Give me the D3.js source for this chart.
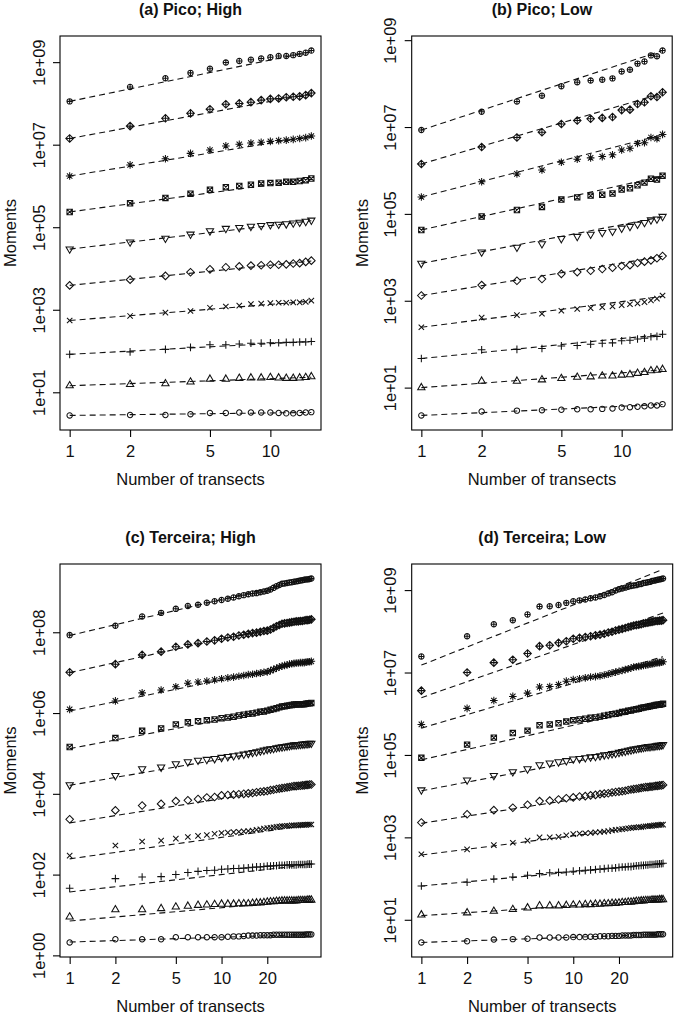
<!DOCTYPE html>
<html><head><meta charset="utf-8">
<script src="https://cdn.jsdelivr.net/npm/d3@7"></script>
<style>
body{margin:0;background:#fff}
svg{display:block}
text{font-family:"Liberation Sans",Arial,Helvetica,sans-serif;fill:#111}
</style>
</head><body>
<svg id="chart" width="675" height="1015"></svg>
<script>
// ---------- DATA ----------
const panelTitles = ["(a) Pico; High", "(b) Pico; Low", "(c) Terceira; High", "(d) Terceira; Low"];
const transectsPico = d3.range(1, 17);      // 1..16
const transectsTerceira = d3.range(1, 40);  // 1..39
const xTicksPico = [1, 2, 5, 10];
const xTicksTerceira = [1, 2, 5, 10, 20];
const yTicksOdd = [1e1, 1e3, 1e5, 1e7, 1e9];
const yTickLabelsOdd = ["1e+01", "1e+03", "1e+05", "1e+07", "1e+09"];
const yTicksEven = [1e0, 1e2, 1e4, 1e6, 1e8];
const yTickLabelsEven = ["1e+00", "1e+02", "1e+04", "1e+06", "1e+08"];

// log10 of moments q = 1..10, one row per moment
const picoHighLog = [
  [0.44,0.45,0.45,0.47,0.50,0.50,0.51,0.51,0.51,0.51,0.50,0.49,0.49,0.50,0.51,0.52],
  [1.16,1.19,1.21,1.25,1.32,1.32,1.34,1.35,1.35,1.36,1.35,1.34,1.34,1.35,1.36,1.38],
  [1.92,1.98,2.04,2.09,2.15,2.15,2.17,2.19,2.19,2.20,2.20,2.21,2.21,2.22,2.22,2.23],
  [2.74,2.85,2.93,2.97,3.05,3.08,3.10,3.14,3.15,3.16,3.17,3.17,3.18,3.18,3.19,3.22],
  [3.59,3.73,3.82,3.91,3.98,4.03,4.05,4.07,4.08,4.09,4.09,4.10,4.12,4.13,4.16,4.19],
  [4.47,4.64,4.73,4.83,4.91,4.97,4.99,5.02,5.04,5.06,5.07,5.08,5.10,5.12,5.14,5.17],
  [5.37,5.58,5.71,5.81,5.91,5.97,6.00,6.03,6.06,6.07,6.08,6.10,6.10,6.12,6.14,6.18],
  [6.24,6.51,6.66,6.79,6.87,6.97,7.01,7.04,7.06,7.08,7.10,7.11,7.13,7.15,7.17,7.21],
  [7.15,7.45,7.64,7.76,7.86,7.98,8.00,8.03,8.08,8.11,8.12,8.15,8.16,8.17,8.20,8.25],
  [8.05,8.40,8.61,8.74,8.84,8.99,9.03,9.06,9.09,9.12,9.15,9.15,9.17,9.20,9.23,9.28]
];
const picoLowLog = [
  [0.36,0.45,0.47,0.48,0.49,0.50,0.50,0.51,0.52,0.54,0.55,0.56,0.57,0.59,0.59,0.62],
  [1.00,1.15,1.15,1.18,1.21,1.24,1.25,1.27,1.27,1.29,1.30,1.33,1.35,1.39,1.40,1.42],
  [1.67,1.87,1.88,1.90,1.96,1.97,2.00,2.02,2.03,2.08,2.09,2.12,2.14,2.17,2.18,2.23],
  [2.39,2.61,2.67,2.70,2.77,2.81,2.83,2.85,2.87,2.90,2.92,2.94,2.97,3.01,3.05,3.12],
  [3.12,3.36,3.46,3.50,3.62,3.66,3.69,3.73,3.76,3.80,3.82,3.87,3.90,3.93,3.98,4.03],
  [3.86,4.12,4.23,4.31,4.43,4.48,4.53,4.57,4.60,4.67,4.71,4.76,4.80,4.86,4.88,4.94],
  [4.63,4.94,5.09,5.16,5.33,5.38,5.42,5.44,5.47,5.56,5.59,5.66,5.72,5.81,5.79,5.88],
  [5.39,5.74,5.92,6.01,6.19,6.26,6.29,6.32,6.36,6.47,6.51,6.62,6.64,6.76,6.73,6.83],
  [6.15,6.54,6.76,6.88,7.07,7.15,7.19,7.21,7.23,7.39,7.40,7.53,7.57,7.71,7.69,7.80],
  [6.93,7.35,7.59,7.72,7.94,8.03,8.07,8.09,8.12,8.28,8.32,8.46,8.51,8.65,8.63,8.76]
];
const terceiraHighLog = [
  [0.32,0.40,0.40,0.40,0.45,0.45,0.45,0.45,0.45,0.45,0.46,0.47,0.47,0.48,0.49,0.49,0.49,0.50,0.50,0.50,0.50,0.51,0.51,0.51,0.51,0.51,0.51,0.51,0.51,0.51,0.51,0.51,0.51,0.51,0.51,0.52,0.52,0.52,0.52],
  [0.95,1.13,1.13,1.16,1.20,1.22,1.24,1.25,1.26,1.27,1.27,1.27,1.28,1.28,1.28,1.29,1.30,1.30,1.31,1.32,1.33,1.33,1.34,1.34,1.35,1.35,1.35,1.35,1.35,1.35,1.35,1.36,1.36,1.36,1.36,1.36,1.37,1.37,1.37],
  [1.66,1.90,1.94,1.95,2.00,2.05,2.08,2.10,2.11,2.13,2.14,2.15,2.15,2.16,2.17,2.18,2.19,2.19,2.20,2.21,2.21,2.22,2.22,2.23,2.23,2.23,2.24,2.24,2.24,2.24,2.24,2.25,2.25,2.25,2.25,2.25,2.26,2.26,2.26],
  [2.47,2.72,2.82,2.84,2.89,2.93,2.96,2.98,3.01,3.03,3.04,3.05,3.06,3.07,3.08,3.09,3.11,3.12,3.14,3.15,3.16,3.17,3.18,3.19,3.20,3.20,3.21,3.21,3.22,3.22,3.22,3.22,3.23,3.23,3.23,3.23,3.24,3.24,3.24],
  [3.37,3.59,3.71,3.75,3.82,3.84,3.87,3.91,3.92,3.96,3.97,3.98,3.99,4.00,4.01,4.02,4.04,4.05,4.06,4.07,4.09,4.10,4.12,4.13,4.14,4.15,4.16,4.17,4.18,4.19,4.19,4.20,4.20,4.21,4.21,4.22,4.22,4.23,4.23],
  [4.22,4.45,4.62,4.66,4.74,4.79,4.83,4.85,4.87,4.90,4.92,4.94,4.96,4.98,5.00,5.02,5.04,5.06,5.08,5.10,5.11,5.12,5.14,5.15,5.16,5.17,5.18,5.19,5.20,5.21,5.21,5.22,5.22,5.23,5.23,5.24,5.24,5.25,5.25],
  [5.16,5.38,5.56,5.62,5.72,5.77,5.80,5.82,5.84,5.87,5.89,5.91,5.94,5.96,5.98,5.99,6.01,6.03,6.04,6.06,6.08,6.10,6.12,6.14,6.16,6.17,6.18,6.19,6.20,6.21,6.21,6.22,6.22,6.22,6.22,6.23,6.24,6.24,6.25],
  [6.09,6.30,6.50,6.57,6.65,6.74,6.77,6.79,6.82,6.85,6.87,6.89,6.91,6.93,6.95,6.96,6.98,6.99,7.01,7.02,7.05,7.08,7.11,7.14,7.16,7.18,7.19,7.21,7.22,7.23,7.24,7.24,7.25,7.25,7.25,7.26,7.27,7.27,7.28],
  [7.01,7.21,7.44,7.52,7.64,7.70,7.73,7.77,7.80,7.84,7.87,7.89,7.92,7.94,7.96,7.98,7.99,8.01,8.03,8.04,8.07,8.11,8.15,8.18,8.21,8.22,8.23,8.24,8.25,8.26,8.27,8.27,8.28,8.28,8.29,8.30,8.30,8.31,8.32],
  [7.93,8.16,8.39,8.48,8.58,8.65,8.68,8.73,8.77,8.80,8.83,8.86,8.89,8.92,8.94,8.96,8.97,8.99,9.01,9.03,9.06,9.10,9.14,9.17,9.20,9.21,9.22,9.23,9.24,9.25,9.26,9.27,9.28,9.29,9.30,9.31,9.31,9.32,9.33]
];
const terceiraLowLog = [
  [0.45,0.48,0.52,0.53,0.54,0.57,0.57,0.57,0.57,0.58,0.58,0.58,0.59,0.59,0.60,0.60,0.60,0.61,0.61,0.61,0.62,0.62,0.62,0.62,0.63,0.63,0.63,0.63,0.64,0.64,0.64,0.64,0.64,0.64,0.64,0.65,0.65,0.65,0.65],
  [1.12,1.17,1.21,1.25,1.29,1.34,1.34,1.34,1.35,1.36,1.36,1.37,1.37,1.38,1.38,1.39,1.39,1.40,1.40,1.41,1.42,1.42,1.43,1.43,1.44,1.45,1.45,1.46,1.46,1.47,1.47,1.47,1.48,1.48,1.48,1.48,1.49,1.49,1.49],
  [1.82,1.91,1.99,2.04,2.08,2.12,2.14,2.15,2.16,2.18,2.19,2.20,2.21,2.22,2.23,2.24,2.25,2.25,2.26,2.27,2.28,2.28,2.29,2.29,2.30,2.31,2.31,2.32,2.32,2.33,2.33,2.34,2.34,2.34,2.35,2.35,2.36,2.36,2.37],
  [2.59,2.71,2.81,2.87,2.92,3.00,3.00,3.01,3.05,3.08,3.09,3.10,3.11,3.12,3.13,3.14,3.15,3.17,3.18,3.19,3.20,3.21,3.22,3.23,3.24,3.24,3.25,3.25,3.26,3.27,3.27,3.28,3.28,3.29,3.29,3.30,3.30,3.31,3.31],
  [3.36,3.56,3.66,3.72,3.79,3.88,3.89,3.92,3.95,3.97,3.99,4.00,4.02,4.03,4.05,4.06,4.07,4.09,4.10,4.11,4.12,4.13,4.15,4.16,4.17,4.18,4.19,4.20,4.21,4.22,4.22,4.23,4.23,4.24,4.25,4.25,4.26,4.26,4.27],
  [4.15,4.39,4.50,4.59,4.66,4.76,4.80,4.83,4.86,4.90,4.91,4.93,4.95,4.96,4.98,5.00,5.01,5.03,5.04,5.06,5.08,5.09,5.11,5.12,5.14,5.15,5.16,5.17,5.18,5.19,5.20,5.20,5.21,5.21,5.22,5.23,5.23,5.24,5.25],
  [4.93,5.25,5.42,5.53,5.59,5.72,5.74,5.77,5.81,5.84,5.86,5.88,5.90,5.91,5.93,5.95,5.97,5.99,6.00,6.02,6.04,6.05,6.07,6.08,6.10,6.11,6.12,6.14,6.15,6.16,6.17,6.18,6.19,6.20,6.21,6.22,6.22,6.23,6.24],
  [5.74,6.13,6.32,6.42,6.50,6.65,6.66,6.71,6.79,6.83,6.85,6.87,6.89,6.90,6.92,6.94,6.96,6.99,7.01,7.03,7.05,7.07,7.09,7.11,7.13,7.14,7.15,7.16,7.17,7.18,7.19,7.20,7.21,7.22,7.23,7.24,7.24,7.25,7.26],
  [6.56,7.00,7.24,7.31,7.46,7.64,7.66,7.72,7.76,7.82,7.84,7.86,7.88,7.90,7.92,7.94,7.97,7.99,8.02,8.04,8.06,8.08,8.10,8.12,8.14,8.15,8.16,8.17,8.19,8.20,8.21,8.22,8.23,8.24,8.25,8.25,8.26,8.26,8.27],
  [7.39,7.88,8.17,8.27,8.41,8.60,8.61,8.64,8.69,8.73,8.75,8.77,8.80,8.82,8.85,8.88,8.92,8.95,8.99,9.02,9.04,9.06,9.08,9.10,9.11,9.12,9.14,9.15,9.17,9.18,9.19,9.20,9.22,9.23,9.24,9.25,9.26,9.27,9.28]
];

// fitted power laws: [log10 intercept, slope] per moment
const picoHighFit = [[0.44,0.06],[1.16,0.17],[1.92,0.26],[2.74,0.39],[3.59,0.49],[4.47,0.57],[5.37,0.66],[6.24,0.80],[7.15,0.90],[8.05,1.00]];
const picoLowFit = [[0.36,0.21],[1.00,0.34],[1.67,0.46],[2.39,0.59],[3.12,0.75],[3.86,0.89],[4.63,1.03],[5.39,1.19],[6.15,1.35],[6.93,1.52]];
const terceiraHighFit = [[0.33,0.12],[0.85,0.33],[1.57,0.43],[2.39,0.53],[3.28,0.60],[4.21,0.65],[5.12,0.71],[6.05,0.77],[7.00,0.83],[7.92,0.89]];
const terceiraLowFit = [[0.45,0.125],[1.10,0.24],[1.82,0.34],[2.57,0.47],[3.34,0.58],[4.13,0.70],[4.88,0.84],[5.65,1.09],[6.39,1.29],[7.18,1.46]];

// ---------- LAYOUT ----------
const panels = [
  {title: panelTitles[0], x: transectsPico, logs: picoHighLog, fit: picoHighFit, xTicks: xTicksPico, yTicks: yTicksOdd, yLabels: yTickLabelsOdd, left: 60, top: 36, w: 261, h: 394},
  {title: panelTitles[1], x: transectsPico, logs: picoLowLog, fit: picoLowFit, xTicks: xTicksPico, yTicks: yTicksOdd, yLabels: yTickLabelsOdd, left: 411.7, top: 36, w: 260.5, h: 394},
  {title: panelTitles[2], x: transectsTerceira, logs: terceiraHighLog, fit: terceiraHighFit, xTicks: xTicksTerceira, yTicks: yTicksEven, yLabels: yTickLabelsEven, left: 60, top: 564, w: 261, h: 393},
  {title: panelTitles[3], x: transectsTerceira, logs: terceiraLowLog, fit: terceiraLowFit, xTicks: xTicksTerceira, yTicks: yTicksOdd, yLabels: yTickLabelsOdd, left: 411.7, top: 564, w: 261, h: 393}
];

const INK = "#111";
const FS = "16.5px";
const R0 = 2.7;
const S2 = Math.SQRT2;
const TRC0 = 1.5551203, TRC1 = 1.3467737, TRC2 = 0.7775602;

function markerPath(q) {
  const p = d3.path();
  const r = R0;
  const circle = (rr) => { p.moveTo(rr, 0); p.arc(0, 0, rr, 0, 2 * Math.PI); };
  const plus = (h) => { p.moveTo(-h, 0); p.lineTo(h, 0); p.moveTo(0, -h); p.lineTo(0, h); };
  const times = (h) => { p.moveTo(-h, -h); p.lineTo(h, h); p.moveTo(-h, h); p.lineTo(h, -h); };
  const diamond = (h) => { p.moveTo(-h, 0); p.lineTo(0, -h); p.lineTo(h, 0); p.lineTo(0, h); p.closePath(); };
  switch (q) {
    case 1: circle(r); break;
    case 2: p.moveTo(0, -TRC0 * r); p.lineTo(TRC1 * r, TRC2 * r); p.lineTo(-TRC1 * r, TRC2 * r); p.closePath(); break;
    case 3: plus(S2 * r); break;
    case 4: times(r); break;
    case 5: diamond(S2 * r); break;
    case 6: p.moveTo(0, TRC0 * r); p.lineTo(TRC1 * r, -TRC2 * r); p.lineTo(-TRC1 * r, -TRC2 * r); p.closePath(); break;
    case 7: p.rect(-r, -r, 2 * r, 2 * r); times(r); break;
    case 8: times(r); plus(S2 * r); break;
    case 9: diamond(S2 * r); plus(S2 * r); break;
    case 10: circle(r); plus(r); break;
  }
  return p.toString();
}

const svg = d3.select("#chart");

panels.forEach(P => {
  const n = P.x[P.x.length - 1];
  // R-style 4% axis extension in log space
  const lx = Math.log10(n), px = 0.04 * lx;
  const x = d3.scaleLog().domain([Math.pow(10, -px), Math.pow(10, lx + px)]).range([P.left, P.left + P.w]);
  const allLogs = P.logs.flat();
  const lo = d3.min(allLogs), hi = d3.max(allLogs), pad = 0.04 * (hi - lo);
  const y = d3.scaleLog().domain([Math.pow(10, lo - pad), Math.pow(10, hi + pad)]).range([P.top + P.h, P.top]);

  const g = svg.append("g");

  // title
  g.append("text").attr("x", P.left + P.w / 2).attr("y", P.top - 21.4)
    .attr("text-anchor", "middle").style("font-size", "16px").style("font-weight", "bold").text(P.title);

  // fitted dashed lines
  const line = d3.line().x(d => x(d[0])).y(d => y(d[1]));
  g.selectAll("path.fit").data(P.fit).enter().append("path").attr("class", "fit")
    .attr("d", f => line([[1, Math.pow(10, f[0])], [n, Math.pow(10, f[0] + f[1] * Math.log10(n))]]))
    .attr("fill", "none").attr("stroke", INK).attr("stroke-width", 1.1).attr("stroke-dasharray", "6,4");

  // points
  P.logs.forEach((row, qi) => {
    const d = markerPath(qi + 1);
    g.selectAll(null).data(row.map((v, i) => [P.x[i], Math.pow(10, v)])).enter().append("path")
      .attr("transform", p => `translate(${x(p[0])},${y(p[1])})`)
      .attr("d", d).attr("fill", "none").attr("stroke", INK).attr("stroke-width", 1.05);
  });

  // box
  g.append("rect").attr("x", P.left).attr("y", P.top).attr("width", P.w).attr("height", P.h)
    .attr("fill", "none").attr("stroke", "#000").attr("stroke-width", 1.1);

  // x axis
  const xa = g.append("g").attr("transform", `translate(0,${P.top + P.h})`)
    .call(d3.axisBottom(x).tickValues(P.xTicks).tickFormat(d3.format("d")).tickSize(7));
  xa.select(".domain").remove();
  xa.selectAll("line").attr("stroke", "#000").attr("stroke-width", 1.1);
  xa.selectAll("text").attr("y", 27).attr("dy", 0).style("font-size", FS).attr("fill", "#111");

  // y axis
  const ya = g.append("g").attr("transform", `translate(${P.left},0)`)
    .call(d3.axisLeft(y).tickValues(P.yTicks).tickFormat((d, i) => P.yLabels[i]).tickSize(7));
  ya.select(".domain").remove();
  ya.selectAll("line").attr("stroke", "#000").attr("stroke-width", 1.1);
  ya.selectAll("text").attr("transform", "rotate(-90)").attr("x", 0).attr("y", -15.5).attr("dy", 0)
    .attr("text-anchor", "middle").style("font-size", FS).attr("fill", "#111");

  // axis titles
  g.append("text").attr("x", P.left + P.w / 2).attr("y", P.top + P.h + 55)
    .attr("text-anchor", "middle").style("font-size", FS).text("Number of transects");
  g.append("text").attr("transform", `translate(${P.left - 44},${P.top + P.h / 2}) rotate(-90)`)
    .attr("text-anchor", "middle").style("font-size", FS).text("Moments");
});
</script>
</body></html>
